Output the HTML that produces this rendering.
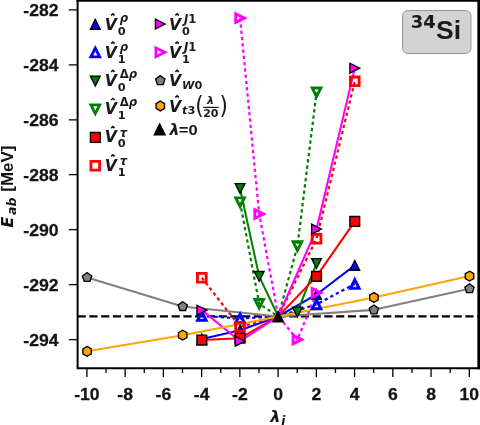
<!DOCTYPE html>
<html lang="en"><head><meta charset="utf-8"><title>34Si</title>
<style>html,body{margin:0;padding:0;background:#fff}svg{display:block}</style></head>
<body>
<svg width="480" height="425" viewBox="0 0 480 425">
<rect width="480" height="425" fill="#fff"/>
<defs><clipPath id="ax"><rect x="77.6" y="0" width="401" height="368.3"/></clipPath></defs>
<g clip-path="url(#ax)">
<path d="M77.6 316.47H478.6" stroke="#000" stroke-width="2.2" stroke-dasharray="8.2 3.55" fill="none"/>
<path d="M201.82 338.99L240.06 330.2L278.3 316.47L316.54 294.49L354.78 265.37" fill="none" stroke="#0000ff" stroke-width="2.05" stroke-linejoin="round"/>
<path d="M201.82 315.92L240.06 318.39L278.3 316.47L316.54 304.38L354.78 283.91" fill="none" stroke="#0000ff" stroke-width="2.2" stroke-dasharray="3.3 3" stroke-linejoin="round"/>
<path d="M240.06 188.46L259.18 276.36L278.3 316.47L297.42 312.07L316.54 263.45" fill="none" stroke="#008000" stroke-width="2.05" stroke-linejoin="round"/>
<path d="M240.06 202.19L259.18 303.83L278.3 316.47L297.42 246.14L316.54 92.31" fill="none" stroke="#008000" stroke-width="2.2" stroke-dasharray="3.3 3" stroke-linejoin="round"/>
<path d="M201.82 340.09L240.06 338.17L278.3 316.47L316.54 276.36L354.78 221.42" fill="none" stroke="#ff0000" stroke-width="2.05" stroke-linejoin="round"/>
<path d="M201.82 277.73L240.06 326.9L278.3 316.47L316.54 238.73L354.78 81.32" fill="none" stroke="#ff0000" stroke-width="2.2" stroke-dasharray="3.3 3" stroke-linejoin="round"/>
<path d="M201.82 310.15L240.06 341.19L278.3 316.47L316.54 229.11L354.78 68.14" fill="none" stroke="#ff00ff" stroke-width="2.05" stroke-linejoin="round"/>
<path d="M240.06 18.14L259.18 214L278.3 316.47L297.42 339.54L316.54 292.84" fill="none" stroke="#ff00ff" stroke-width="2.2" stroke-dasharray="3.3 3" stroke-linejoin="round"/>
<path d="M87.1 277.46L182.7 306.58L278.3 316.47L373.9 309.87L469.5 288.72" fill="none" stroke="#808080" stroke-width="2.05" stroke-linejoin="round"/>
<path d="M87.1 351.35L182.7 335.14L278.3 316.47L373.9 297.51L469.5 276.08" fill="none" stroke="#ffa500" stroke-width="2.05" stroke-linejoin="round"/>
<path d="M201.82 334.09L196.92 343.89L206.72 343.89Z" fill="#0000ff" stroke="#000" stroke-width="1.35" stroke-linejoin="miter"/>
<path d="M240.06 325.3L235.16 335.1L244.96 335.1Z" fill="#0000ff" stroke="#000" stroke-width="1.35" stroke-linejoin="miter"/>
<path d="M316.54 289.59L311.64 299.39L321.44 299.39Z" fill="#0000ff" stroke="#000" stroke-width="1.35" stroke-linejoin="miter"/>
<path d="M354.78 260.47L349.88 270.27L359.68 270.27Z" fill="#0000ff" stroke="#000" stroke-width="1.35" stroke-linejoin="miter"/>
<path d="M201.82 311.57L197.47 320.27L206.17 320.27Z" fill="none" stroke="#0000ff" stroke-width="2.85" stroke-linejoin="miter"/>
<path d="M240.06 314.04L235.71 322.74L244.41 322.74Z" fill="none" stroke="#0000ff" stroke-width="2.85" stroke-linejoin="miter"/>
<path d="M316.54 300.03L312.19 308.73L320.89 308.73Z" fill="none" stroke="#0000ff" stroke-width="2.85" stroke-linejoin="miter"/>
<path d="M354.78 279.56L350.43 288.26L359.13 288.26Z" fill="none" stroke="#0000ff" stroke-width="2.85" stroke-linejoin="miter"/>
<path d="M240.06 193.36L235.16 183.56L244.96 183.56Z" fill="#008000" stroke="#000" stroke-width="1.35" stroke-linejoin="miter"/>
<path d="M259.18 281.26L254.28 271.46L264.08 271.46Z" fill="#008000" stroke="#000" stroke-width="1.35" stroke-linejoin="miter"/>
<path d="M297.42 316.97L292.52 307.17L302.32 307.17Z" fill="#008000" stroke="#000" stroke-width="1.35" stroke-linejoin="miter"/>
<path d="M316.54 268.35L311.64 258.55L321.44 258.55Z" fill="#008000" stroke="#000" stroke-width="1.35" stroke-linejoin="miter"/>
<path d="M240.06 206.54L235.71 197.84L244.41 197.84Z" fill="none" stroke="#008000" stroke-width="2.85" stroke-linejoin="miter"/>
<path d="M259.18 308.18L254.83 299.48L263.53 299.48Z" fill="none" stroke="#008000" stroke-width="2.85" stroke-linejoin="miter"/>
<path d="M297.42 250.49L293.07 241.79L301.77 241.79Z" fill="none" stroke="#008000" stroke-width="2.85" stroke-linejoin="miter"/>
<path d="M316.54 96.66L312.19 87.96L320.89 87.96Z" fill="none" stroke="#008000" stroke-width="2.85" stroke-linejoin="miter"/>
<path d="M196.92 335.19H206.72V344.99H196.92Z" fill="#ff0000" stroke="#000" stroke-width="1.35" stroke-linejoin="miter"/>
<path d="M235.16 333.27H244.96V343.07H235.16Z" fill="#ff0000" stroke="#000" stroke-width="1.35" stroke-linejoin="miter"/>
<path d="M311.64 271.46H321.44V281.26H311.64Z" fill="#ff0000" stroke="#000" stroke-width="1.35" stroke-linejoin="miter"/>
<path d="M349.88 216.52H359.68V226.32H349.88Z" fill="#ff0000" stroke="#000" stroke-width="1.35" stroke-linejoin="miter"/>
<path d="M197.47 273.38H206.17V282.08H197.47Z" fill="none" stroke="#ff0000" stroke-width="2.85" stroke-linejoin="miter"/>
<path d="M235.71 322.55H244.41V331.25H235.71Z" fill="none" stroke="#ff0000" stroke-width="2.85" stroke-linejoin="miter"/>
<path d="M312.19 234.38H320.89V243.08H312.19Z" fill="none" stroke="#ff0000" stroke-width="2.85" stroke-linejoin="miter"/>
<path d="M350.43 76.97H359.13V85.67H350.43Z" fill="none" stroke="#ff0000" stroke-width="2.85" stroke-linejoin="miter"/>
<path d="M206.72 310.15L196.92 305.25L196.92 315.05Z" fill="#ff00ff" stroke="#000" stroke-width="1.35" stroke-linejoin="miter"/>
<path d="M244.96 341.19L235.16 336.29L235.16 346.09Z" fill="#ff00ff" stroke="#000" stroke-width="1.35" stroke-linejoin="miter"/>
<path d="M321.44 229.11L311.64 224.21L311.64 234.01Z" fill="#ff00ff" stroke="#000" stroke-width="1.35" stroke-linejoin="miter"/>
<path d="M359.68 68.14L349.88 63.24L349.88 73.04Z" fill="#ff00ff" stroke="#000" stroke-width="1.35" stroke-linejoin="miter"/>
<path d="M244.41 18.14L235.71 13.79L235.71 22.49Z" fill="none" stroke="#ff00ff" stroke-width="2.85" stroke-linejoin="miter"/>
<path d="M263.53 214L254.83 209.65L254.83 218.35Z" fill="none" stroke="#ff00ff" stroke-width="2.85" stroke-linejoin="miter"/>
<path d="M301.77 339.54L293.07 335.19L293.07 343.89Z" fill="none" stroke="#ff00ff" stroke-width="2.85" stroke-linejoin="miter"/>
<path d="M320.89 292.84L312.19 288.49L312.19 297.19Z" fill="none" stroke="#ff00ff" stroke-width="2.85" stroke-linejoin="miter"/>
<path d="M87.1 272.56L91.76 275.94L89.98 281.42L84.22 281.42L82.44 275.94Z" fill="#808080" stroke="#000" stroke-width="1.35" stroke-linejoin="miter"/>
<path d="M182.7 301.68L187.36 305.06L185.58 310.54L179.82 310.54L178.04 305.06Z" fill="#808080" stroke="#000" stroke-width="1.35" stroke-linejoin="miter"/>
<path d="M373.9 304.97L378.56 308.36L376.78 313.84L371.02 313.84L369.24 308.36Z" fill="#808080" stroke="#000" stroke-width="1.35" stroke-linejoin="miter"/>
<path d="M469.5 283.82L474.16 287.21L472.38 292.68L466.62 292.68L464.84 287.21Z" fill="#808080" stroke="#000" stroke-width="1.35" stroke-linejoin="miter"/>
<path d="M87.1 346.45L91.34 348.9L91.34 353.8L87.1 356.25L82.86 353.8L82.86 348.9Z" fill="#ffa500" stroke="#000" stroke-width="1.35" stroke-linejoin="miter"/>
<path d="M182.7 330.24L186.94 332.69L186.94 337.59L182.7 340.04L178.46 337.59L178.46 332.69Z" fill="#ffa500" stroke="#000" stroke-width="1.35" stroke-linejoin="miter"/>
<path d="M373.9 292.61L378.14 295.06L378.14 299.96L373.9 302.41L369.66 299.96L369.66 295.06Z" fill="#ffa500" stroke="#000" stroke-width="1.35" stroke-linejoin="miter"/>
<path d="M469.5 271.18L473.74 273.63L473.74 278.53L469.5 280.98L465.26 278.53L465.26 273.63Z" fill="#ffa500" stroke="#000" stroke-width="1.35" stroke-linejoin="miter"/>
<path d="M278.1 311.17L272.8 321.77L283.4 321.77Z" fill="#000" stroke="#000" stroke-width="1.3"/>
</g>
<path d="M77.6 0V368.3H478.6V0" fill="none" stroke="#000" stroke-width="2" stroke-linecap="square"/>
<path d="M76.6 0.9H479.6" fill="none" stroke="#000" stroke-width="1.8"/>
<rect x="477.6" y="0" width="2.4" height="369.3" fill="#000"/>
<path d="M86.9 369V377M106.02 369V373M125.14 369V377M144.26 369V373M163.38 369V377M182.5 369V373M201.62 369V377M220.74 369V373M239.86 369V377M258.98 369V373M278.1 369V377M297.22 369V373M316.34 369V377M335.46 369V373M354.58 369V377M373.7 369V373M392.82 369V377M411.94 369V373M431.06 369V377M450.18 369V373M469.3 369V377M77 339.54H68.8M77 284.6H68.8M77 229.66H68.8M77 174.72H68.8M77 119.78H68.8M77 64.84H68.8M77 9.9H68.8" stroke="#000" stroke-width="1.3" fill="none"/>
<g font-family="'Liberation Sans', Arial, Helvetica, sans-serif" font-weight="700" font-size="16.5px" fill="#151515" stroke="#151515" stroke-width="0.25">
<text transform="translate(86.9,400.3) scale(1.07,1)" text-anchor="middle">-10</text>
<text transform="translate(125.14,400.3) scale(1.07,1)" text-anchor="middle">-8</text>
<text transform="translate(163.38,400.3) scale(1.07,1)" text-anchor="middle">-6</text>
<text transform="translate(201.62,400.3) scale(1.07,1)" text-anchor="middle">-4</text>
<text transform="translate(239.86,400.3) scale(1.07,1)" text-anchor="middle">-2</text>
<text transform="translate(278.1,400.3) scale(1.07,1)" text-anchor="middle">0</text>
<text transform="translate(316.34,400.3) scale(1.07,1)" text-anchor="middle">2</text>
<text transform="translate(354.58,400.3) scale(1.07,1)" text-anchor="middle">4</text>
<text transform="translate(392.82,400.3) scale(1.07,1)" text-anchor="middle">6</text>
<text transform="translate(431.06,400.3) scale(1.07,1)" text-anchor="middle">8</text>
<text transform="translate(469.3,400.3) scale(1.07,1)" text-anchor="middle">10</text>
<text transform="translate(58.6,345.84) scale(1.07,1)" text-anchor="end">-294</text>
<text transform="translate(58.6,290.9) scale(1.07,1)" text-anchor="end">-292</text>
<text transform="translate(58.6,235.96) scale(1.07,1)" text-anchor="end">-290</text>
<text transform="translate(58.6,181.02) scale(1.07,1)" text-anchor="end">-288</text>
<text transform="translate(58.6,126.08) scale(1.07,1)" text-anchor="end">-286</text>
<text transform="translate(58.6,71.14) scale(1.07,1)" text-anchor="end">-284</text>
<text transform="translate(58.6,16.2) scale(1.07,1)" text-anchor="end">-282</text>
</g>
<g font-family="'DejaVu Sans', sans-serif" font-weight="700" font-style="oblique" fill="#111">
<text x="270.3" y="421.7" font-size="16px">λ</text>
<text x="281.3" y="425.2" font-size="12px">i</text>
<text transform="translate(12.7,227.6) rotate(-90)" font-size="15.8px">E</text>
<text transform="translate(15.9,214.9) rotate(-90)" font-size="12.5px">ab</text>
</g>
<text transform="translate(12.6,191.7) rotate(-90) scale(1.03,1)" font-family="'Liberation Sans', Arial, Helvetica, sans-serif" font-weight="700" font-size="16.5px" fill="#111">[MeV]</text>
<rect x="402.5" y="10.5" width="68.5" height="43" rx="5.5" fill="#d3d3d3" stroke="#808080" stroke-width="0.8"/>
<text x="410.7" y="28.2" font-family="'DejaVu Sans', sans-serif" font-weight="700" font-size="18px" fill="#1a1a1a">34</text>
<text x="436.1" y="39.4" font-family="'Liberation Sans', Arial, sans-serif" font-weight="700" font-size="26.5px" fill="#1a1a1a">Si</text>
<g font-family="'DejaVu Sans', sans-serif" font-weight="700" fill="#1a1a1a">
<path d="M95.3 19.4L90.4 29.2L100.2 29.2Z" fill="#0000ff" stroke="#000" stroke-width="1.35" stroke-linejoin="miter"/>
<g transform="translate(104.8,29.6)"><text x="0" y="0" font-style="oblique" font-size="15.7px">V</text><path d="M6.36 -14.2L8.1 -15.75L9.84 -14.2" fill="none" stroke="#111" stroke-width="1.6"/><text x="15.0" y="-7.3" font-size="11.6px" font-style="oblique">ρ</text><text x="13.0" y="4.9" font-size="11.3px" >0</text></g>
<path d="M95.3 48.15L90.95 56.85L99.65 56.85Z" fill="none" stroke="#0000ff" stroke-width="2.85" stroke-linejoin="miter"/>
<g transform="translate(104.8,57.8)"><text x="0" y="0" font-style="oblique" font-size="15.7px">V</text><path d="M6.36 -14.2L8.1 -15.75L9.84 -14.2" fill="none" stroke="#111" stroke-width="1.6"/><text x="15.0" y="-7.3" font-size="11.6px" font-style="oblique">ρ</text><text x="13.0" y="4.9" font-size="11.3px" >1</text></g>
<path d="M95.3 85.9L90.4 76.1L100.2 76.1Z" fill="#008000" stroke="#000" stroke-width="1.35" stroke-linejoin="miter"/>
<g transform="translate(104.8,86)"><text x="0" y="0" font-style="oblique" font-size="15.7px">V</text><path d="M6.36 -14.2L8.1 -15.75L9.84 -14.2" fill="none" stroke="#111" stroke-width="1.6"/><text x="15.0" y="-8.4" font-size="11.6px" font-style="oblique"><tspan font-style="normal">Δ</tspan>ρ</text><text x="13.0" y="4.9" font-size="11.3px" >0</text></g>
<path d="M95.3 113.55L90.95 104.85L99.65 104.85Z" fill="none" stroke="#008000" stroke-width="2.85" stroke-linejoin="miter"/>
<g transform="translate(104.8,114.2)"><text x="0" y="0" font-style="oblique" font-size="15.7px">V</text><path d="M6.36 -14.2L8.1 -15.75L9.84 -14.2" fill="none" stroke="#111" stroke-width="1.6"/><text x="15.0" y="-8.4" font-size="11.6px" font-style="oblique"><tspan font-style="normal">Δ</tspan>ρ</text><text x="13.0" y="4.9" font-size="11.3px" >1</text></g>
<path d="M90.4 132.5H100.2V142.3H90.4Z" fill="#ff0000" stroke="#000" stroke-width="1.35" stroke-linejoin="miter"/>
<g transform="translate(104.8,142.4)"><text x="0" y="0" font-style="oblique" font-size="15.7px">V</text><path d="M6.36 -14.2L8.1 -15.75L9.84 -14.2" fill="none" stroke="#111" stroke-width="1.6"/><text x="15.0" y="-5.4" font-size="11.6px" font-style="oblique">τ</text><text x="13.0" y="4.9" font-size="11.3px" >0</text></g>
<path d="M90.95 161.35H99.65V170.05H90.95Z" fill="none" stroke="#ff0000" stroke-width="2.85" stroke-linejoin="miter"/>
<g transform="translate(104.8,170.6)"><text x="0" y="0" font-style="oblique" font-size="15.7px">V</text><path d="M6.36 -14.2L8.1 -15.75L9.84 -14.2" fill="none" stroke="#111" stroke-width="1.6"/><text x="15.0" y="-5.4" font-size="11.6px" font-style="oblique">τ</text><text x="13.0" y="4.9" font-size="11.3px" >1</text></g>
<path d="M165.2 24.1L155.4 19.2L155.4 29Z" fill="#ff00ff" stroke="#000" stroke-width="1.35" stroke-linejoin="miter"/>
<g transform="translate(169,29.6)"><text x="0" y="0" font-style="oblique" font-size="15.7px">V</text><path d="M6.36 -14.2L8.1 -15.75L9.84 -14.2" fill="none" stroke="#111" stroke-width="1.6"/><text x="15.0" y="-6.9" font-size="11.6px" font-style="oblique">J<tspan font-style="normal">1</tspan></text><text x="13.0" y="4.9" font-size="11.3px" >0</text></g>
<path d="M164.65 52.3L155.95 47.95L155.95 56.65Z" fill="none" stroke="#ff00ff" stroke-width="2.85" stroke-linejoin="miter"/>
<g transform="translate(169,57.8)"><text x="0" y="0" font-style="oblique" font-size="15.7px">V</text><path d="M6.36 -14.2L8.1 -15.75L9.84 -14.2" fill="none" stroke="#111" stroke-width="1.6"/><text x="15.0" y="-6.9" font-size="11.6px" font-style="oblique">J<tspan font-style="normal">1</tspan></text><text x="13.0" y="4.9" font-size="11.3px" >1</text></g>
<path d="M160.3 75.7L164.96 79.09L163.18 84.56L157.42 84.56L155.64 79.09Z" fill="#808080" stroke="#000" stroke-width="1.35" stroke-linejoin="miter"/>
<g transform="translate(169,86)"><text x="0" y="0" font-style="oblique" font-size="15.7px">V</text><path d="M6.36 -14.2L8.1 -15.75L9.84 -14.2" fill="none" stroke="#111" stroke-width="1.6"/><text x="13.0" y="2.7" font-size="11.3px" font-style="oblique">W<tspan font-style="normal">0</tspan></text></g>
<path d="M160.3 101.1L164.54 103.55L164.54 108.45L160.3 110.9L156.06 108.45L156.06 103.55Z" fill="#ffa500" stroke="#000" stroke-width="1.35" stroke-linejoin="miter"/>
<g transform="translate(169,111.6)"><text x="0" y="0" font-style="oblique" font-size="15.7px">V</text><path d="M6.36 -14.2L8.1 -15.75L9.84 -14.2" fill="none" stroke="#111" stroke-width="1.6"/><text x="13.0" y="2.7" font-size="11.3px" font-style="oblique">t<tspan font-style="normal">3</tspan></text></g>
<text transform="translate(195.15,114.1) scale(0.85,1)" font-size="25.3px" font-weight="400">(</text>
<text transform="translate(219.5,114.1) scale(0.85,1)" font-size="25.3px" font-weight="400">)</text>
<text x="210.6" y="104" font-size="11px" font-style="oblique" text-anchor="middle">λ</text>
<path d="M203.2 107.4H218.6" stroke="#111" stroke-width="1.2"/>
<text x="210.8" y="116.9" font-size="11px" text-anchor="middle">20</text>
<path d="M159.7 123.85L154.25 134.75L165.15 134.75Z" fill="#000" stroke="#000" stroke-width="1.3"/>
<text x="169.4" y="134.7" font-size="15.7px" font-style="oblique">λ</text>
<text transform="translate(178.7,134.7) scale(1.07,1)" font-family="'Liberation Sans', Arial, sans-serif" font-size="15.5px">=0</text>
</g>
</svg>
</body></html>
